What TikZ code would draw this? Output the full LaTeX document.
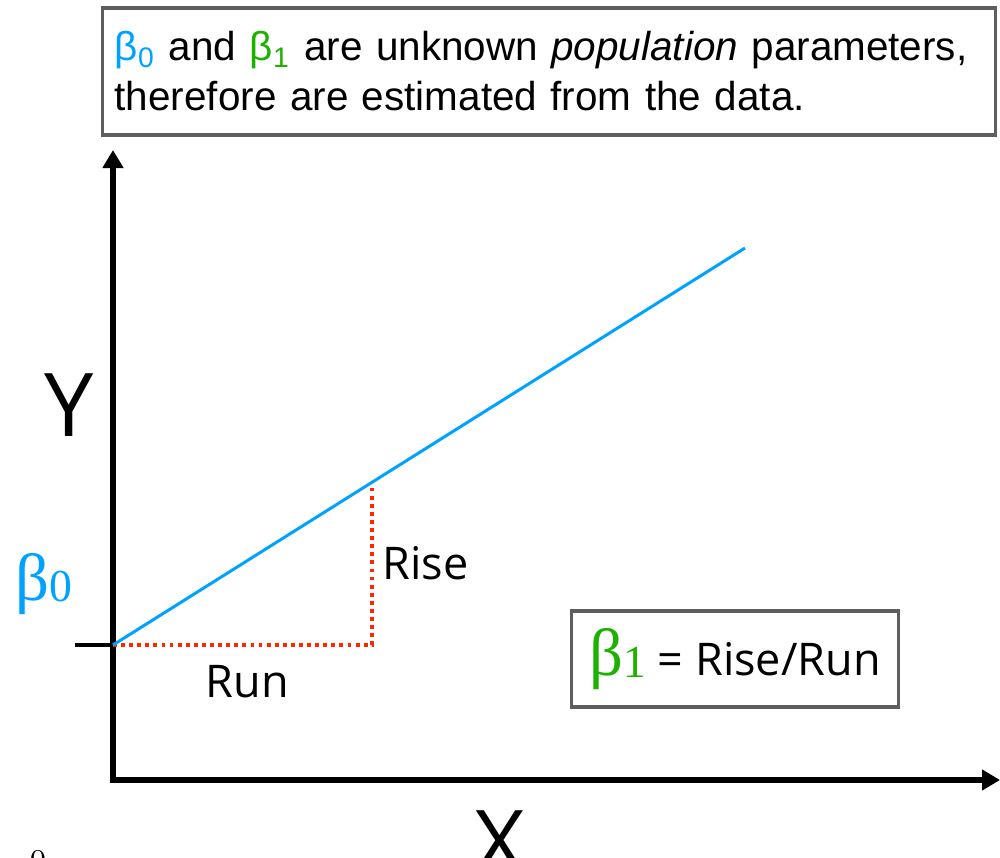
\documentclass[tikz,border=0pt]{standalone}
\usepackage{fontspec}
\usetikzlibrary{arrows.meta}
\newfontfamily\boxfont{Liberation Sans}
\newfontfamily\handfont{Open Sans}
\newfontfamily\greekfont{Liberation Serif}
\definecolor{lineblue}{HTML}{00A2FF}
\definecolor{slopegreen}{HTML}{1DB100}
\definecolor{dotred}{HTML}{FF2600}
\definecolor{framegray}{HTML}{5E5E5E}
\newcommand{\bigbeta}[1]{{\greekfont\fontsize{19}{20}\selectfont β\raisebox{-0.5pt}{\fontsize{13}{14}\selectfont #1}}}
\begin{document}
\begin{tikzpicture}[x=0.01cm, y=-0.01cm,
    >={Triangle[width=0.2cm, length=0.18cm]},
    axis/.style={line width=1.7pt, line join=miter, <->},
    frame/.style={draw=framegray, line width=0.9pt, fill=white, inner sep=0pt},
    hand/.style={font=\handfont\fontsize{12.8}{15}\selectfont, inner sep=0pt}]
\useasboundingbox (0,0) rectangle (1000,858);
\coordinate (O) at (113,780);
\coordinate (ytip) at (113,150);
\coordinate (xtip) at (1000,780);
\coordinate (b0) at (113,645);
\coordinate (tick) at (75,645);
\coordinate (lineend) at (745,248);
\coordinate (risetop) at (372,482);
\draw[axis] (ytip)--(O)--(xtip);
\draw[line width=1.1pt] (tick)--(b0);
\draw[dotred, line width=1.1pt, dash pattern=on 1.1pt off 1.2pt] (b0)-|(risetop);
\draw[lineblue, line width=0.85pt] (b0)--(lineend);
\node[hand, anchor=base west] (rise) at (382,580) {Rise};
\node[hand, anchor=base west] (run) at (205,697) {Run};
\node[font=\handfont\fontsize{25}{28}\selectfont, inner sep=0pt] (ylab) at (69,405) {Y};
\node[font=\handfont\fontsize{25}{28}\selectfont, inner sep=0pt] (xlab) at (500,842) {X};
\node[lineblue, anchor=base west, inner sep=0pt] (b0lab) at (15,600) {\bigbeta{0}};
\node[font=\small, anchor=north, inner sep=0pt] (zero) at (38,850) {0};
\node[frame, minimum width=8.92cm, minimum height=1.27cm, text width=8.68cm,
    align=left, font=\boxfont\fontsize{11.5}{14.2}\selectfont] (note) at (549,71.5)
    {{\color{lineblue}β\textsubscript{0}} and {\color{slopegreen}β\textsubscript{1}} are unknown \textit{population} parameters,\\
    therefore are estimated from the data.};
\node[frame, minimum width=3.26cm, minimum height=0.96cm] (slope) at (735,659)
    {{\color{slopegreen}\bigbeta{1}} {\handfont\fontsize{12.8}{15}\selectfont = Rise/Run}};
\end{tikzpicture}
\end{document}
